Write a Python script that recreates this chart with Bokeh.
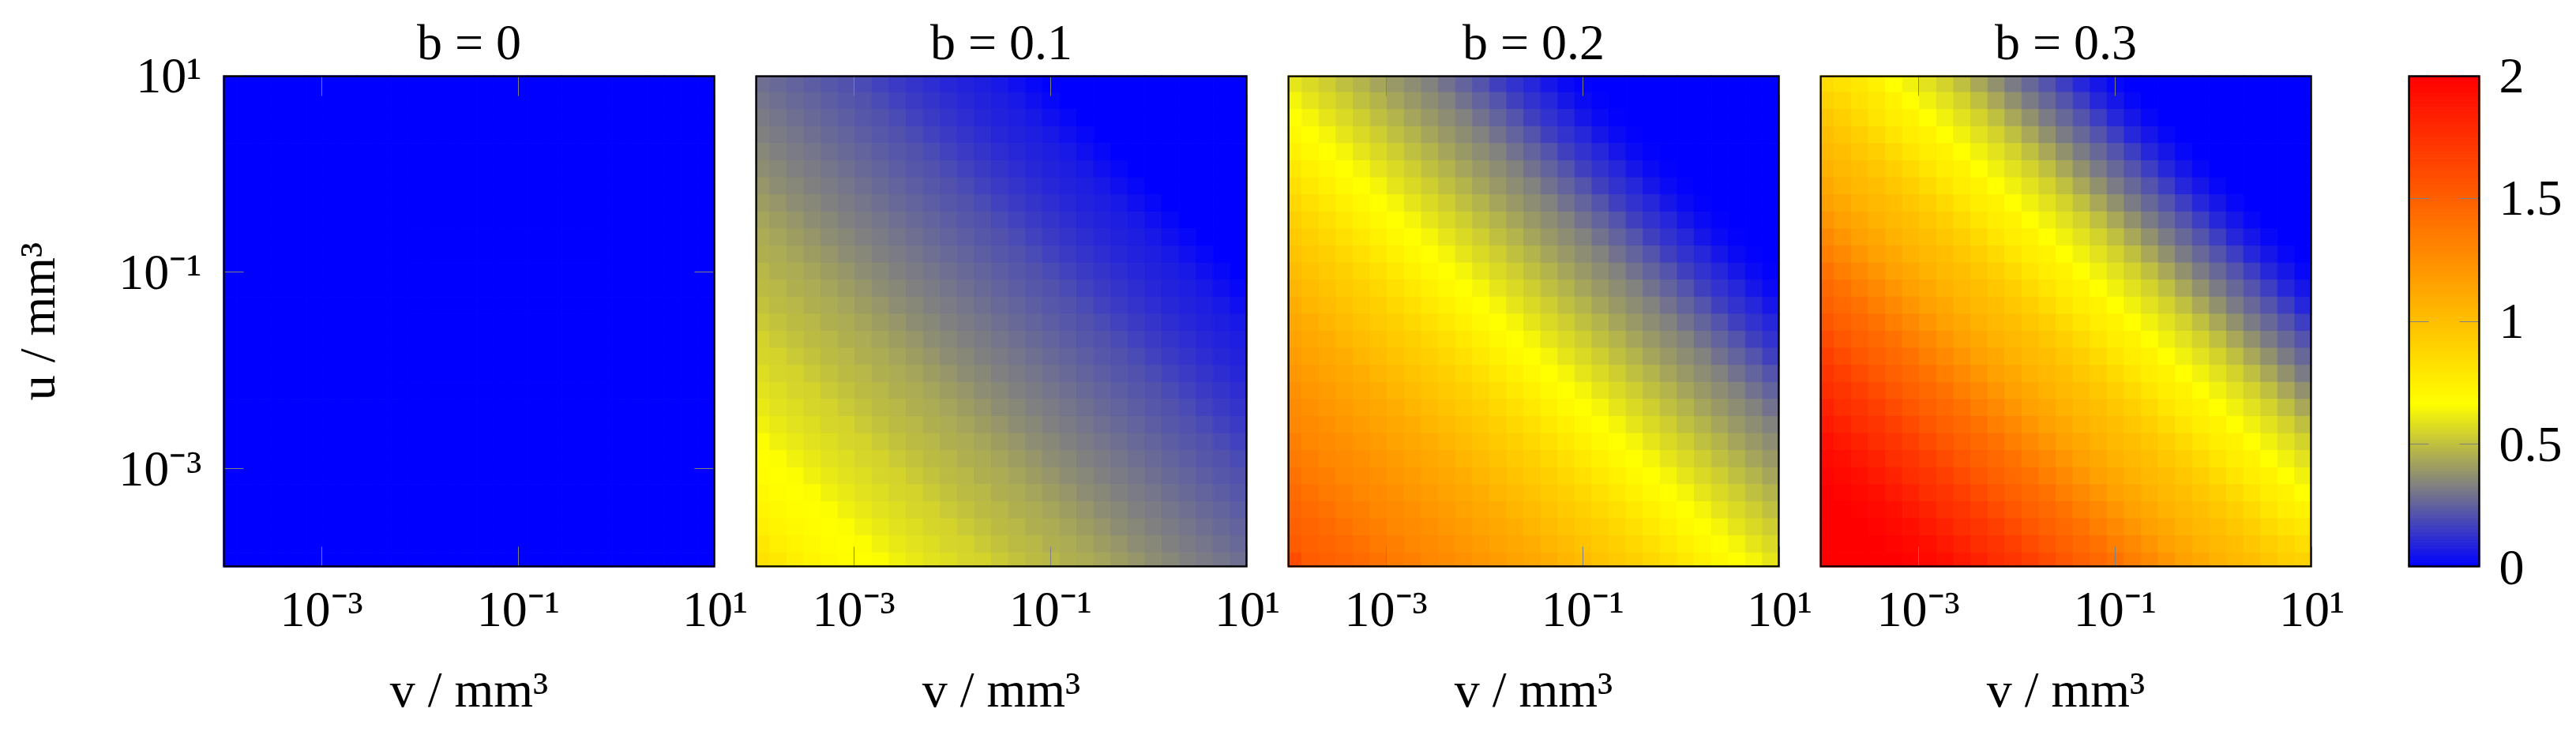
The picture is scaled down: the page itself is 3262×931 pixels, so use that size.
import numpy as np
from bokeh.embed import file_html
from bokeh.layouts import row
from bokeh.models import BoxAnnotation, ColumnDataSource, FixedTicker, LinearAxis, LinearColorMapper, LogAxis, Range1d
from bokeh.plotting import figure
from bokeh.resources import INLINE

titles = ["b = 0", "b = 0.1", "b = 0.2", "b = 0.3"]
x_label = "v / mm³"
y_label = "u / mm³"
log_ticks = [0.001, 0.1, 10]
log_tick_labels = ["10⁻³", "10⁻¹", "10¹"]
cbar_ticks = [0, 0.5, 1, 1.5, 2]
cbar_tick_labels = ["0", "0.5", "1", "1.5", "2"]
cmap_stops = [0, 1 / 3, 2 / 3, 2]
cmap_rgb = [(0, 0, 255), (128, 128, 128), (255, 255, 0), (255, 0, 0)]
cell_edge_exponents = [-4, -3.853, -3.68, -3.507, -3.333, -3.16, -2.987, -2.813, -2.64, -2.467,
                       -2.293, -2.12, -1.947, -1.773, -1.6, -1.427, -1.253, -1.08, -0.907, -0.733,
                       -0.56, -0.387, -0.213, -0.04, 0.133, 0.307, 0.48, 0.653, 0.827, 1]

# Values per cell, rows top (u = 10^1) to bottom (u = 10^-4), columns v = 10^-4 to 10^1
zero_row = [0, 0, 0, 0, 0, 0, 0, 0, 0, 0, 0, 0, 0, 0, 0, 0, 0, 0, 0, 0, 0, 0, 0, 0, 0, 0, 0, 0, 0]
values_b0 = [zero_row] * 29
values_b1 = [
[.29,.275,.26,.245,.23,.215,.195,.175,.155,.14,.12,.105,.09,.08,.065,.04,.02,0,0,0,0,0,0,0,0,0,0,0,0],
[.305,.29,.275,.26,.245,.23,.215,.195,.175,.155,.14,.12,.105,.09,.08,.065,.04,.02,0,0,0,0,0,0,0,0,0,0,0],
[.32,.305,.29,.275,.26,.245,.23,.215,.195,.175,.155,.14,.12,.105,.09,.08,.065,.04,.02,0,0,0,0,0,0,0,0,0,0],
[.335,.32,.305,.29,.275,.26,.245,.23,.215,.195,.175,.155,.14,.12,.105,.09,.08,.065,.04,.02,0,0,0,0,0,0,0,0,0],
[.355,.335,.32,.305,.29,.275,.26,.245,.23,.215,.195,.175,.155,.14,.12,.105,.09,.08,.065,.04,.02,0,0,0,0,0,0,0,0],
[.37,.355,.335,.32,.305,.29,.275,.26,.245,.23,.215,.195,.175,.155,.14,.12,.105,.09,.08,.065,.04,.02,0,0,0,0,0,0,0],
[.39,.37,.355,.335,.32,.305,.29,.275,.26,.245,.23,.215,.195,.175,.155,.14,.12,.105,.09,.08,.065,.04,.02,0,0,0,0,0,0],
[.41,.39,.37,.355,.335,.32,.305,.29,.275,.26,.245,.23,.215,.195,.175,.155,.14,.12,.105,.09,.08,.065,.04,.02,0,0,0,0,0],
[.43,.41,.39,.37,.355,.335,.32,.305,.29,.275,.26,.245,.23,.215,.195,.175,.155,.14,.12,.105,.09,.08,.065,.04,.02,0,0,0,0],
[.45,.43,.41,.39,.37,.355,.335,.32,.305,.29,.275,.26,.245,.23,.215,.195,.175,.155,.14,.12,.105,.09,.08,.065,.04,.02,0,0,0],
[.46,.45,.43,.41,.39,.37,.355,.335,.32,.305,.29,.275,.26,.245,.23,.215,.195,.175,.155,.14,.12,.105,.09,.08,.065,.04,.02,0,0],
[.48,.46,.45,.43,.41,.39,.37,.355,.335,.32,.305,.29,.275,.26,.245,.23,.215,.195,.175,.155,.14,.12,.105,.09,.08,.065,.04,.02,0],
[.49,.48,.46,.45,.43,.41,.39,.37,.355,.335,.32,.305,.29,.275,.26,.245,.23,.215,.195,.175,.155,.14,.12,.105,.09,.08,.065,.04,.02],
[.51,.49,.48,.46,.45,.43,.41,.39,.37,.355,.335,.32,.305,.29,.275,.26,.245,.23,.215,.195,.175,.155,.14,.12,.105,.09,.08,.065,.04],
[.53,.51,.49,.48,.46,.45,.43,.41,.39,.37,.355,.335,.32,.305,.29,.275,.26,.245,.23,.215,.195,.175,.155,.14,.12,.105,.09,.08,.065],
[.55,.53,.51,.49,.48,.46,.45,.43,.41,.39,.37,.355,.335,.32,.305,.29,.275,.26,.245,.23,.215,.195,.175,.155,.14,.12,.105,.09,.08],
[.56,.55,.53,.51,.49,.48,.46,.45,.43,.41,.39,.37,.355,.335,.32,.305,.29,.275,.26,.245,.23,.215,.195,.175,.155,.14,.12,.105,.09],
[.58,.56,.55,.53,.51,.49,.48,.46,.45,.43,.41,.39,.37,.355,.335,.32,.305,.29,.275,.26,.245,.23,.215,.195,.175,.155,.14,.12,.105],
[.59,.58,.56,.55,.53,.51,.49,.48,.46,.45,.43,.41,.39,.37,.355,.335,.32,.305,.29,.275,.26,.245,.23,.215,.195,.175,.155,.14,.12],
[.61,.59,.58,.56,.55,.53,.51,.49,.48,.46,.45,.43,.41,.39,.37,.355,.335,.32,.305,.29,.275,.26,.245,.23,.215,.195,.175,.155,.14],
[.63,.61,.59,.58,.56,.55,.53,.51,.49,.48,.46,.45,.43,.41,.39,.37,.355,.335,.32,.305,.29,.275,.26,.245,.23,.215,.195,.175,.155],
[.66,.63,.61,.59,.58,.56,.55,.53,.51,.49,.48,.46,.45,.43,.41,.39,.37,.355,.335,.32,.305,.29,.275,.26,.245,.23,.215,.195,.175],
[.67,.66,.63,.61,.59,.58,.56,.55,.53,.51,.49,.48,.46,.45,.43,.41,.39,.37,.355,.335,.32,.305,.29,.275,.26,.245,.23,.215,.195],
[.68,.67,.66,.63,.61,.59,.58,.56,.55,.53,.51,.49,.48,.46,.45,.43,.41,.39,.37,.355,.335,.32,.305,.29,.275,.26,.245,.23,.215],
[.70,.68,.67,.66,.63,.61,.59,.58,.56,.55,.53,.51,.49,.48,.46,.45,.43,.41,.39,.37,.355,.335,.32,.305,.29,.275,.26,.245,.23],
[.72,.70,.68,.67,.66,.63,.61,.59,.58,.56,.55,.53,.51,.49,.48,.46,.45,.43,.41,.39,.37,.355,.335,.32,.305,.29,.275,.26,.245],
[.75,.72,.70,.68,.67,.66,.63,.61,.59,.58,.56,.55,.53,.51,.49,.48,.46,.45,.43,.41,.39,.37,.355,.335,.32,.305,.29,.275,.26],
[.79,.75,.72,.70,.68,.67,.66,.63,.61,.59,.58,.56,.55,.53,.51,.49,.48,.46,.45,.43,.41,.39,.37,.355,.335,.32,.305,.29,.275],
[.82,.79,.75,.72,.70,.68,.67,.66,.63,.61,.59,.58,.56,.55,.53,.51,.49,.48,.46,.45,.43,.41,.39,.37,.355,.335,.32,.305,.29],
]
values_b2 = [
[.60,.57,.54,.50,.47,.43,.40,.37,.34,.30,.26,.22,.17,.13,.10,.06,.03,.01,0,0,0,0,0,0,0,0,0,0,0],
[.64,.60,.57,.54,.50,.47,.43,.40,.37,.34,.30,.26,.22,.17,.13,.10,.06,.03,.01,0,0,0,0,0,0,0,0,0,0],
[.67,.64,.60,.57,.54,.50,.47,.43,.40,.37,.34,.30,.26,.22,.17,.13,.10,.06,.03,.01,0,0,0,0,0,0,0,0,0],
[.70,.67,.64,.60,.57,.54,.50,.47,.43,.40,.37,.34,.30,.26,.22,.17,.13,.10,.06,.03,.01,0,0,0,0,0,0,0,0],
[.74,.70,.67,.64,.60,.57,.54,.50,.47,.43,.40,.37,.34,.30,.26,.22,.17,.13,.10,.06,.03,.01,0,0,0,0,0,0,0],
[.78,.74,.70,.67,.64,.60,.57,.54,.50,.47,.43,.40,.37,.34,.30,.26,.22,.17,.13,.10,.06,.03,.01,0,0,0,0,0,0],
[.83,.78,.74,.70,.67,.64,.60,.57,.54,.50,.47,.43,.40,.37,.34,.30,.26,.22,.17,.13,.10,.06,.03,.01,0,0,0,0,0],
[.87,.83,.78,.74,.70,.67,.64,.60,.57,.54,.50,.47,.43,.40,.37,.34,.30,.26,.22,.17,.13,.10,.06,.03,.01,0,0,0,0],
[.91,.87,.83,.78,.74,.70,.67,.64,.60,.57,.54,.50,.47,.43,.40,.37,.34,.30,.26,.22,.17,.13,.10,.06,.03,.01,0,0,0],
[.94,.91,.87,.83,.78,.74,.70,.67,.64,.60,.57,.54,.50,.47,.43,.40,.37,.34,.30,.26,.22,.17,.13,.10,.06,.03,.01,0,0],
[.98,.94,.91,.87,.83,.78,.74,.70,.67,.64,.60,.57,.54,.50,.47,.43,.40,.37,.34,.30,.26,.22,.17,.13,.10,.06,.03,.01,0],
[1.02,.98,.94,.91,.87,.83,.78,.74,.70,.67,.64,.60,.57,.54,.50,.47,.43,.40,.37,.34,.30,.26,.22,.17,.13,.10,.06,.03,.01],
[1.05,1.02,.98,.94,.91,.87,.83,.78,.74,.70,.67,.64,.60,.57,.54,.50,.47,.43,.40,.37,.34,.30,.26,.22,.17,.13,.10,.06,.03],
[1.09,1.05,1.02,.98,.94,.91,.87,.83,.78,.74,.70,.67,.64,.60,.57,.54,.50,.47,.43,.40,.37,.34,.30,.26,.22,.17,.13,.10,.06],
[1.12,1.09,1.05,1.02,.98,.94,.91,.87,.83,.78,.74,.70,.67,.64,.60,.57,.54,.50,.47,.43,.40,.37,.34,.30,.26,.22,.17,.13,.10],
[1.15,1.12,1.09,1.05,1.02,.98,.94,.91,.87,.83,.78,.74,.70,.67,.64,.60,.57,.54,.50,.47,.43,.40,.37,.34,.30,.26,.22,.17,.13],
[1.18,1.15,1.12,1.09,1.05,1.02,.98,.94,.91,.87,.83,.78,.74,.70,.67,.64,.60,.57,.54,.50,.47,.43,.40,.37,.34,.30,.26,.22,.17],
[1.21,1.18,1.15,1.12,1.09,1.05,1.02,.98,.94,.91,.87,.83,.78,.74,.70,.67,.64,.60,.57,.54,.50,.47,.43,.40,.37,.34,.30,.26,.22],
[1.24,1.21,1.18,1.15,1.12,1.09,1.05,1.02,.98,.94,.91,.87,.83,.78,.74,.70,.67,.64,.60,.57,.54,.50,.47,.43,.40,.37,.34,.30,.26],
[1.27,1.24,1.21,1.18,1.15,1.12,1.09,1.05,1.02,.98,.94,.91,.87,.83,.78,.74,.70,.67,.64,.60,.57,.54,.50,.47,.43,.40,.37,.34,.30],
[1.29,1.27,1.24,1.21,1.18,1.15,1.12,1.09,1.05,1.02,.98,.94,.91,.87,.83,.78,.74,.70,.67,.64,.60,.57,.54,.50,.47,.43,.40,.37,.34],
[1.33,1.29,1.27,1.24,1.21,1.18,1.15,1.12,1.09,1.05,1.02,.98,.94,.91,.87,.83,.78,.74,.70,.67,.64,.60,.57,.54,.50,.47,.43,.40,.37],
[1.36,1.33,1.29,1.27,1.24,1.21,1.18,1.15,1.12,1.09,1.05,1.02,.98,.94,.91,.87,.83,.78,.74,.70,.67,.64,.60,.57,.54,.50,.47,.43,.40],
[1.40,1.36,1.33,1.29,1.27,1.24,1.21,1.18,1.15,1.12,1.09,1.05,1.02,.98,.94,.91,.87,.83,.78,.74,.70,.67,.64,.60,.57,.54,.50,.47,.43],
[1.44,1.40,1.36,1.33,1.29,1.27,1.24,1.21,1.18,1.15,1.12,1.09,1.05,1.02,.98,.94,.91,.87,.83,.78,.74,.70,.67,.64,.60,.57,.54,.50,.47],
[1.47,1.44,1.40,1.36,1.33,1.29,1.27,1.24,1.21,1.18,1.15,1.12,1.09,1.05,1.02,.98,.94,.91,.87,.83,.78,.74,.70,.67,.64,.60,.57,.54,.50],
[1.50,1.47,1.44,1.40,1.36,1.33,1.29,1.27,1.24,1.21,1.18,1.15,1.12,1.09,1.05,1.02,.98,.94,.91,.87,.83,.78,.74,.70,.67,.64,.60,.57,.54],
[1.52,1.50,1.47,1.44,1.40,1.36,1.33,1.29,1.27,1.24,1.21,1.18,1.15,1.12,1.09,1.05,1.02,.98,.94,.91,.87,.83,.78,.74,.70,.67,.64,.60,.57],
[1.60,1.52,1.50,1.47,1.44,1.40,1.36,1.33,1.29,1.27,1.24,1.21,1.18,1.15,1.12,1.09,1.05,1.02,.98,.94,.91,.87,.83,.78,.74,.70,.67,.64,.60],
]
values_b3 = [
[.85,.82,.79,.74,.67,.63,.59,.55,.50,.44,.38,.32,.27,.22,.16,.10,.06,.02,0,0,0,0,0,0,0,0,0,0,0],
[.90,.87,.82,.78,.73,.67,.63,.59,.55,.50,.44,.38,.32,.27,.22,.16,.10,.06,.02,0,0,0,0,0,0,0,0,0,0],
[.96,.92,.86,.80,.76,.73,.67,.63,.59,.55,.50,.44,.38,.32,.27,.22,.16,.10,.06,.02,0,0,0,0,0,0,0,0,0],
[1.00,.96,.92,.86,.80,.76,.73,.67,.63,.59,.55,.50,.44,.38,.32,.27,.22,.16,.10,.06,.02,0,0,0,0,0,0,0,0],
[1.03,1.00,.96,.92,.86,.80,.76,.73,.67,.63,.59,.55,.50,.44,.38,.32,.27,.22,.16,.10,.06,.02,0,0,0,0,0,0,0],
[1.07,1.03,1.00,.96,.92,.86,.80,.76,.73,.67,.63,.59,.55,.50,.44,.38,.32,.27,.22,.16,.10,.06,.02,0,0,0,0,0,0],
[1.12,1.07,1.03,1.00,.96,.92,.86,.80,.76,.73,.67,.63,.59,.55,.50,.44,.38,.32,.27,.22,.16,.10,.06,.02,0,0,0,0,0],
[1.16,1.12,1.07,1.03,1.00,.96,.92,.86,.80,.76,.73,.67,.63,.59,.55,.50,.44,.38,.32,.27,.22,.16,.10,.06,.02,0,0,0,0],
[1.22,1.16,1.12,1.07,1.03,1.00,.96,.92,.86,.80,.76,.73,.67,.63,.59,.55,.50,.44,.38,.32,.27,.22,.16,.10,.06,.02,0,0,0],
[1.28,1.22,1.16,1.12,1.07,1.03,1.00,.96,.92,.86,.80,.76,.73,.67,.63,.59,.55,.50,.44,.38,.32,.27,.22,.16,.10,.06,.02,0,0],
[1.33,1.28,1.22,1.16,1.12,1.07,1.03,1.00,.96,.92,.86,.80,.76,.73,.67,.63,.59,.55,.50,.44,.38,.32,.27,.22,.16,.10,.06,.02,0],
[1.40,1.33,1.28,1.22,1.16,1.12,1.07,1.03,1.00,.96,.92,.86,.80,.76,.73,.67,.63,.59,.55,.50,.44,.38,.32,.27,.22,.16,.10,.06,.02],
[1.45,1.40,1.33,1.28,1.22,1.16,1.12,1.07,1.03,1.00,.96,.92,.86,.80,.76,.73,.67,.63,.59,.55,.50,.44,.38,.32,.27,.22,.16,.10,.06],
[1.50,1.45,1.40,1.33,1.28,1.22,1.16,1.12,1.07,1.03,1.00,.96,.92,.86,.80,.76,.73,.67,.63,.59,.55,.50,.44,.38,.32,.27,.22,.16,.10],
[1.55,1.50,1.45,1.40,1.33,1.28,1.22,1.16,1.12,1.07,1.03,1.00,.96,.92,.86,.80,.76,.73,.67,.63,.59,.55,.50,.44,.38,.32,.27,.22,.16],
[1.61,1.55,1.50,1.45,1.40,1.33,1.28,1.22,1.16,1.12,1.07,1.03,1.00,.96,.92,.86,.80,.76,.73,.67,.63,.59,.55,.50,.44,.38,.32,.27,.22],
[1.67,1.61,1.55,1.50,1.45,1.40,1.33,1.28,1.22,1.16,1.12,1.07,1.03,1.00,.96,.92,.86,.80,.76,.73,.67,.63,.59,.55,.50,.44,.38,.32,.27],
[1.72,1.67,1.61,1.55,1.50,1.45,1.40,1.33,1.28,1.22,1.16,1.12,1.07,1.03,1.00,.96,.92,.86,.80,.76,.73,.67,.63,.59,.55,.50,.44,.38,.32],
[1.76,1.72,1.67,1.61,1.55,1.50,1.45,1.40,1.33,1.28,1.22,1.16,1.12,1.07,1.03,1.00,.96,.92,.86,.80,.76,.73,.67,.63,.59,.55,.50,.44,.38],
[1.82,1.76,1.72,1.67,1.61,1.55,1.50,1.45,1.40,1.33,1.28,1.22,1.16,1.12,1.07,1.03,1.00,.96,.92,.86,.80,.76,.73,.67,.63,.59,.55,.50,.44],
[1.87,1.82,1.76,1.72,1.67,1.61,1.55,1.50,1.45,1.40,1.33,1.28,1.22,1.16,1.12,1.07,1.03,1.00,.96,.92,.86,.80,.76,.73,.67,.63,.59,.55,.50],
[1.92,1.87,1.82,1.76,1.72,1.67,1.61,1.55,1.50,1.45,1.40,1.33,1.28,1.22,1.16,1.12,1.07,1.03,1.00,.96,.92,.86,.80,.76,.73,.67,.63,.59,.55],
[1.95,1.92,1.87,1.82,1.76,1.72,1.67,1.61,1.55,1.50,1.45,1.40,1.33,1.28,1.22,1.16,1.12,1.07,1.03,1.00,.96,.92,.86,.80,.76,.73,.67,.63,.59],
[1.98,1.95,1.92,1.87,1.82,1.76,1.72,1.67,1.61,1.55,1.50,1.45,1.40,1.33,1.28,1.22,1.16,1.12,1.07,1.03,1.00,.96,.92,.86,.80,.76,.73,.67,.63],
[2,1.98,1.95,1.92,1.87,1.82,1.76,1.72,1.67,1.61,1.55,1.50,1.45,1.40,1.33,1.28,1.22,1.16,1.12,1.07,1.03,1.00,.96,.92,.86,.80,.76,.73,.67],
[2,2,1.98,1.95,1.92,1.87,1.82,1.76,1.72,1.67,1.61,1.55,1.50,1.45,1.40,1.33,1.28,1.22,1.16,1.12,1.07,1.03,1.00,.96,.92,.86,.80,.76,.73],
[2,2,2,1.98,1.95,1.92,1.87,1.82,1.76,1.72,1.67,1.61,1.55,1.50,1.45,1.40,1.33,1.28,1.22,1.16,1.12,1.07,1.03,1.00,.96,.92,.86,.82,.78],
[2,2,2,2,1.98,1.95,1.92,1.87,1.82,1.76,1.72,1.67,1.61,1.55,1.50,1.45,1.40,1.33,1.28,1.22,1.16,1.12,1.07,1.03,1.00,.96,.92,.88,.84],
[2,2,2,2,2,1.98,1.95,1.92,1.87,1.82,1.76,1.72,1.67,1.61,1.55,1.50,1.45,1.40,1.33,1.28,1.22,1.16,1.12,1.07,1.03,1.00,.96,.92,.90],
]
panels = [values_b0, values_b1, values_b2, values_b3]

FONT = "Liberation Serif"
BIG = "64px"
TICK_COLOR = "#808080"

stops = np.linspace(0, 2, 513)
rgb = np.array(cmap_rgb, dtype=float)
palette = ["#%02x%02x%02x" % tuple(int(round(np.interp(s, cmap_stops, rgb[:, k]))) for k in range(3)) for s in stops]
mapper = LinearColorMapper(palette=palette, low=0, high=2)


def blank(ticks):
    return {t: "" for t in ticks}


def style_axis(ax, ticks, labels=None):
    ax.ticker = FixedTicker(ticks=ticks)
    ax.axis_line_color = None
    ax.major_tick_in = 26
    ax.major_tick_out = 0
    ax.major_tick_line_color = TICK_COLOR
    ax.major_tick_line_width = 1
    ax.minor_tick_line_color = None
    ax.major_label_text_font = FONT
    ax.major_label_text_font_size = BIG
    ax.major_label_text_color = "black"
    ax.major_label_overrides = dict(zip(ticks, labels)) if labels else blank(ticks)
    ax.axis_label_text_font = FONT
    ax.axis_label_text_font_size = BIG
    ax.axis_label_text_font_style = "normal"
    ax.axis_label_text_color = "black"


def add_border(p):
    xr, yr = p.x_range, p.y_range
    p.add_layout(BoxAnnotation(left=xr.start, right=xr.end, bottom=yr.start, top=yr.end,
                               fill_alpha=0, line_color="black", line_alpha=1.0, line_width=4.5,
                               level="overlay"))


def panel(index):
    values = panels[index]
    left_margin = 282 if index == 0 else 5
    p = figure(output_backend="svg", toolbar_location=None,
               x_axis_type="log", y_axis_type="log",
               x_range=Range1d(1e-4, 10), y_range=Range1d(1e-4, 10),
               frame_width=623, frame_height=623,
               min_border_left=left_margin, min_border_right=46,
               min_border_top=95, min_border_bottom=205,
               background_fill_color=None, border_fill_color=None)
    p.grid.visible = False
    p.outline_line_color = None

    left, right, bottom, top, val = [], [], [], [], []
    for r, row_values in enumerate(values):
        for c, v in enumerate(row_values):
            left.append(10.0 ** cell_edge_exponents[c])
            right.append(10.0 ** cell_edge_exponents[c + 1])
            top.append(10.0 ** cell_edge_exponents[29 - r])
            bottom.append(10.0 ** cell_edge_exponents[28 - r])
            val.append(v)
    source = ColumnDataSource(dict(left=left, right=right, top=top, bottom=bottom, value=val))
    fill = {"field": "value", "transform": mapper}
    p.quad(left="left", right="right", top="top", bottom="bottom", source=source,
           fill_color=fill, line_color=fill, line_width=1)

    xax = p.xaxis[0]
    style_axis(xax, log_ticks, log_tick_labels)
    xax.major_label_standoff = 17
    xax.axis_label = x_label
    xax.axis_label_standoff = 28

    yax = p.yaxis[0]
    if index == 0:
        style_axis(yax, log_ticks, log_tick_labels)
        yax.major_label_standoff = 27
        yax.axis_label = y_label
        yax.axis_label_standoff = 64
        right_ax = LogAxis()
        style_axis(right_ax, log_ticks)
        right_ax.major_label_text_font_size = "1px"
        p.add_layout(right_ax, "right")
    else:
        yax.visible = False

    top_ax = LogAxis()
    style_axis(top_ax, log_ticks)
    top_ax.major_label_text_font_size = "1px"
    top_ax.major_label_standoff = 0
    p.add_layout(top_ax, "above")

    p.title.text = titles[index]
    p.title.align = "center"
    p.title.text_font = FONT
    p.title.text_font_size = BIG
    p.title.text_font_style = "normal"
    p.title.text_color = "black"
    p.title.standoff = 14
    add_border(p)
    return p


def colorbar():
    p = figure(output_backend="svg", toolbar_location=None,
               x_range=Range1d(0, 1), y_range=Range1d(0, 2),
               frame_width=91, frame_height=623,
               min_border_left=76, min_border_right=110,
               min_border_top=95, min_border_bottom=205,
               y_axis_location="right",
               background_fill_color=None, border_fill_color=None)
    p.grid.visible = False
    p.xaxis.visible = False
    p.outline_line_color = None
    edges = np.linspace(0, 2, 257)
    source = ColumnDataSource(dict(bottom=edges[:-1], top=edges[1:],
                                   value=(edges[:-1] + edges[1:]) / 2))
    fill = {"field": "value", "transform": mapper}
    p.quad(left=0, right=1, bottom="bottom", top="top", source=source,
           fill_color=fill, line_color=fill, line_width=1)
    ax = p.yaxis[0]
    style_axis(ax, cbar_ticks, cbar_tick_labels)
    ax.major_label_standoff = 24
    left_ax = LinearAxis()
    style_axis(left_ax, cbar_ticks)
    left_ax.major_label_text_font_size = "1px"
    p.add_layout(left_ax, "left")
    add_border(p)
    return p


layout = row(*[panel(i) for i in range(4)], colorbar())
open("out.html", "w").write(file_html(layout, INLINE))
